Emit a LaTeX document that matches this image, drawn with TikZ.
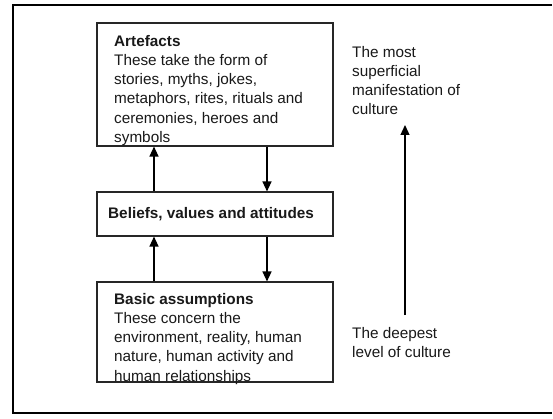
\documentclass[tikz,border=0pt]{standalone}
\usepackage{fontspec}
\setmainfont{Liberation Sans}
\usetikzlibrary{arrows.meta}
\tikzset{
  frame/.style={draw=black, line width=2pt},
  layerbox/.style={draw=black!85, line width=1.1pt, rectangle, inner sep=0pt},
  txt/.style={inner sep=0pt, align=left, font=\fontsize{15.3}{19.2}\selectfont, text=black!90},
  conn/.style={line width=1.3pt, -{Triangle[length=10pt,width=9pt]}}
}
\begin{document}
\begin{tikzpicture}[x=1pt,y=-1pt]
\useasboundingbox (0,0) rectangle (553,419);
\fill[white] (0,0) rectangle (553,419);
\draw[frame] (552,5) -- (13,5) -- (13,413) -- (552,413);
% boxes
\node[layerbox, minimum width=236pt, minimum height=123pt] (art) at (215,84.5) {};
\node[layerbox, minimum width=236pt, minimum height=44pt] (bel) at (215,214) {};
\node[layerbox, minimum width=236pt, minimum height=100pt] (bas) at (215,332) {};
% texts
\node[txt, anchor=north west] (artT) at (114,35) {\textbf{Artefacts}\\These take the form of\\stories, myths, jokes,\\metaphors, rites, rituals and\\ceremonies, heroes and\\symbols};
\node[txt, anchor=west] (belT) at (108,214) {\textbf{Beliefs, values and attitudes}};
\node[txt, anchor=north west] (basT) at (114,293) {\textbf{Basic assumptions}\\These concern the\\environment, reality, human\\nature, human activity and\\human relationships};
\node[txt, anchor=north west] (topT) at (352,46) {The most\\superficial\\manifestation of\\culture};
\node[txt, anchor=north west] (botT) at (352,327) {The deepest\\level of culture};
% connectors
\coordinate (s1) at (405,315);
\coordinate (e1) at (405,125);
\draw[conn] (bel.north -| 154,0) -- (art.south -| 154,0);
\draw[conn] (art.south -| 267,0) -- (bel.north -| 267,0);
\draw[conn] (bas.north -| 154,0) -- (bel.south -| 154,0);
\draw[conn] (bel.south -| 267,0) -- (bas.north -| 267,0);
\draw[conn] (s1) -- (e1);
\end{tikzpicture}
\end{document}
